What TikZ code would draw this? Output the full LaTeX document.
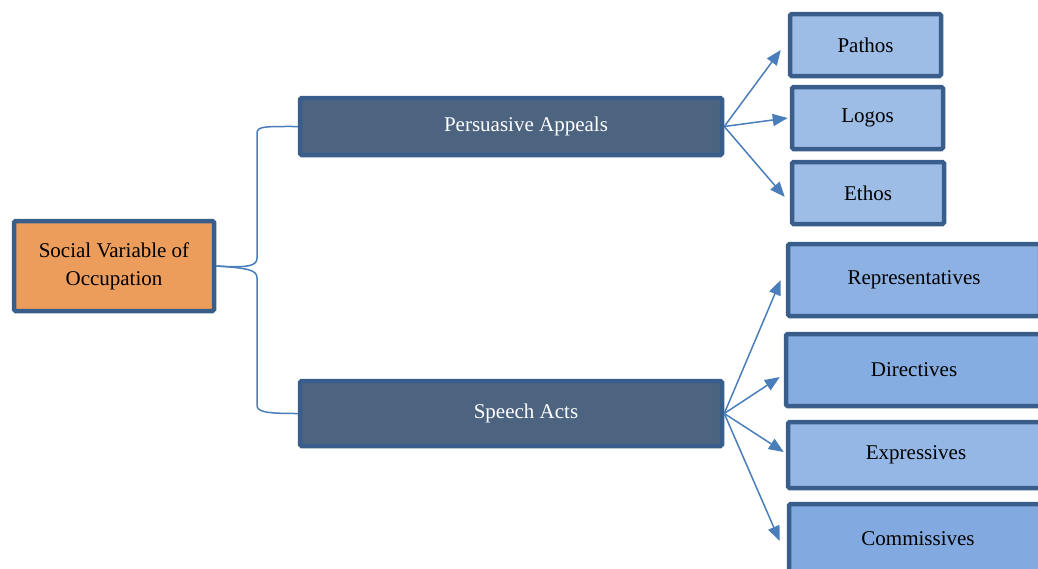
\documentclass[tikz,border=0pt]{standalone}
\usepackage{fontspec}
\setmainfont{Liberation Serif}
\usetikzlibrary{arrows.meta}
\definecolor{bord}{HTML}{3A5E8C}
\definecolor{conn}{HTML}{4A7EBB}
\definecolor{rootfill}{HTML}{EC9D5C}
\definecolor{midfill}{HTML}{4D6480}
\definecolor{leafA}{HTML}{9DBDE6}
\definecolor{leafB}{HTML}{8CB1E2}
\definecolor{leafC}{HTML}{86ADE1}
\definecolor{leafD}{HTML}{94B7E5}
\definecolor{leafE}{HTML}{82AAE0}
\tikzset{
  box/.style={draw=bord, line width=4.5pt, rounded corners=1.5pt, rectangle, inner sep=0pt,
    font=\fontsize{21}{28}\selectfont, align=center},
  rootbox/.style={box, fill=rootfill, text=black},
  midbox/.style={box, fill=midfill, text=white},
  leafbox/.style={box, text=black},
  link/.style={draw=conn, line width=1.5pt},
  arr/.style={link, -{Triangle[length=15pt,width=12pt]}}
}
\begin{document}
\begin{tikzpicture}[x=1pt,y=-1pt]
\useasboundingbox (0,0) rectangle (1038,568);
\clip (0,0) rectangle (1038,568);
% root and middle nodes
\node[rootbox, minimum width=200pt, minimum height=90pt] (root) at (114,266) {Social Variable of\\Occupation};
\node[midbox, minimum width=422pt, minimum height=57pt] (pa) at (511,126.5) {\hspace*{30pt}Persuasive Appeals};
\node[midbox, minimum width=422pt, minimum height=65pt] (sa) at (511,413.5) {\hspace*{30pt}Speech Acts};
% leaves of persuasive appeals
\node[leafbox, fill=leafA, minimum width=151pt, minimum height=62pt] (pathos) at (865.5,45) {Pathos};
\node[leafbox, fill=leafA, minimum width=151pt, minimum height=62pt] (logos) at (867.5,118) {Logos};
\node[leafbox, fill=leafA, minimum width=152pt, minimum height=62pt] (ethos) at (868,193) {Ethos};
% leaves of speech acts
\node[leafbox, fill=leafB, minimum width=252pt, minimum height=72pt] (rep) at (914,280) {Representatives};
\node[leafbox, fill=leafC, minimum width=256pt, minimum height=72pt] (dir) at (914,370) {Directives};
\node[leafbox, fill=leafD, minimum width=256pt, minimum height=66pt] (exp) at (916,455) {Expressives};
\node[leafbox, fill=leafE, minimum width=258pt, minimum height=70pt] (com) at (918,539) {Commissives};
% bracket connectors
\draw[link] (root.east) .. controls (248,268) and (257,266) .. (257,258) -- (257,133)
  .. controls (257,126) and (266,126.5) .. (pa.west);
\draw[link] (root.east) .. controls (248,268) and (257,270) .. (257,278) -- (257,405)
  .. controls (257,412) and (266,413.5) .. (sa.west);
% arrows
\draw[arr] (pa.east) -- ([xshift=-7pt,yshift=-5pt]pathos.west);
\draw[arr] (pa.east) -- ([xshift=-2pt]logos.west);
\draw[arr] (pa.east) -- ([xshift=-5pt,yshift=-4pt]ethos.west);
\draw[arr] (sa.east) -- ([xshift=-5pt]rep.west);
\draw[arr] (sa.east) -- ([xshift=-4pt,yshift=-7pt]dir.west);
\draw[arr] (sa.east) -- ([xshift=-2pt,yshift=3pt]exp.west);
\draw[arr] (sa.east) -- ([xshift=-7pt,yshift=-2pt]com.west);
\end{tikzpicture}
\end{document}
